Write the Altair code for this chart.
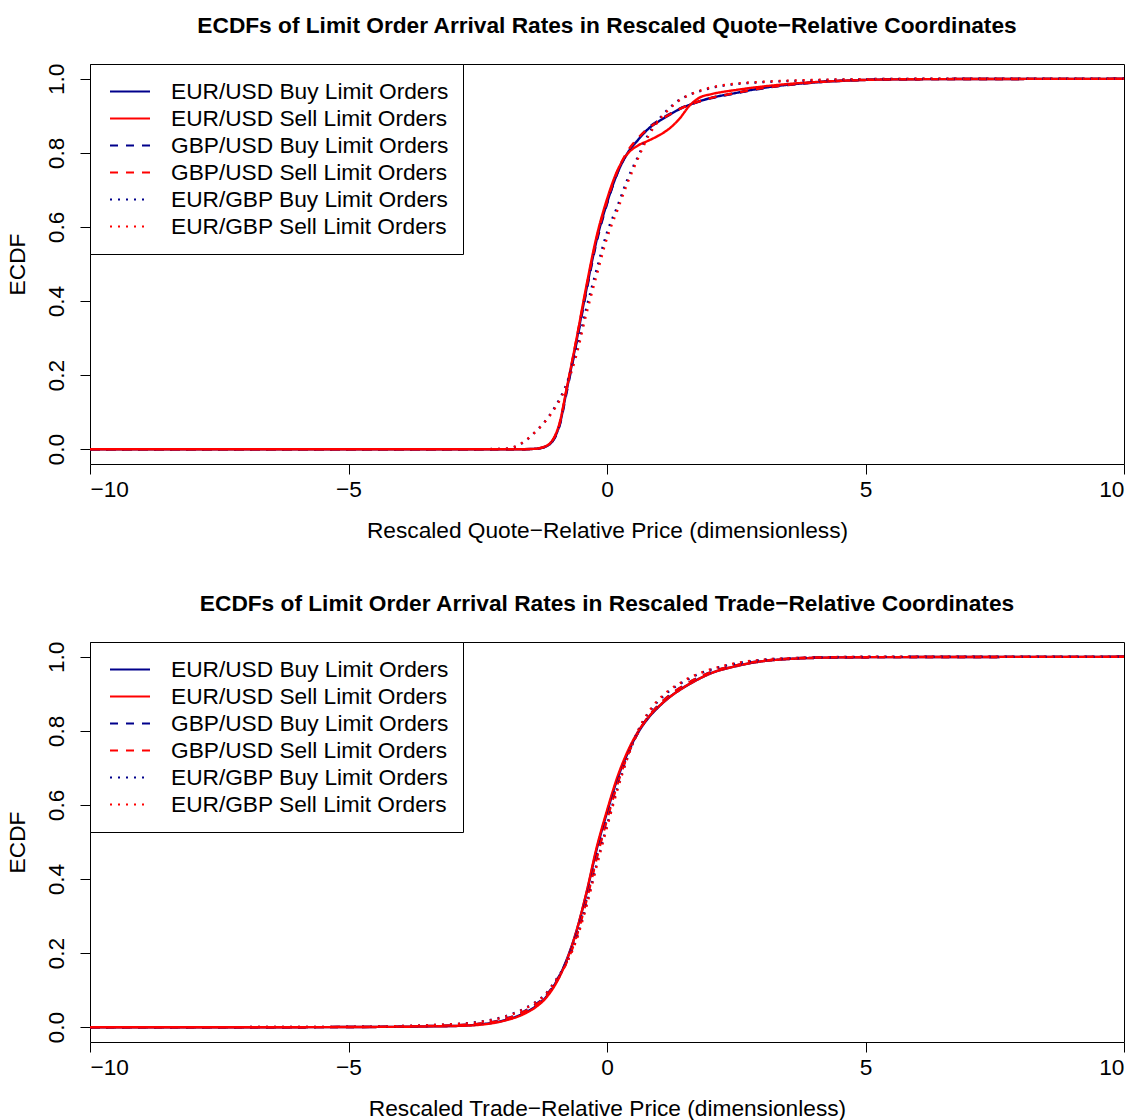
import altair as alt
import pandas as pd

FONT = "Liberation Sans"
FS = 22.7

SERIES = [
    "EUR/USD Buy Limit Orders",
    "EUR/USD Sell Limit Orders",
    "GBP/USD Buy Limit Orders",
    "GBP/USD Sell Limit Orders",
    "EUR/GBP Buy Limit Orders",
    "EUR/GBP Sell Limit Orders",
]
COLORS = ["#00008B", "#FF0000", "#00008B", "#FF0000", "#00008B", "#FF0000"]
DASHES = [[1, 0], [1, 0], [8, 8], [8, 8], [2, 6], [2, 6]]

# Quote-relative coordinates
quote_x = [-10, -2.5, -2.0, -1.8, -1.6, -1.4, -1.2, -1.0, -0.9, -0.8, -0.6, -0.4, -0.2,
           0.0, 0.2, 0.4, 0.6, 0.8, 1.0, 1.2, 1.4, 1.6, 1.8, 2.0, 2.5, 3.0, 3.5, 4.0,
           5.0, 6.0, 10]
quote_eurusd_buy = [0, 0, 0, 0, 0, 0.001, 0.006, 0.035, 0.075, 0.145, 0.285, 0.43, 0.565,
                    0.665, 0.745, 0.80, 0.835, 0.865, 0.885, 0.902, 0.918, 0.93, 0.94, 0.948,
                    0.962, 0.975, 0.984, 0.99, 0.997, 0.999, 1]
quote_eurusd_sell = [0, 0, 0, 0, 0, 0.001, 0.007, 0.038, 0.08, 0.15, 0.29, 0.44, 0.575,
                     0.675, 0.752, 0.798, 0.82, 0.833, 0.847, 0.865, 0.892, 0.928, 0.95, 0.958,
                     0.97, 0.979, 0.986, 0.991, 0.997, 0.999, 1]
quote_gbpusd_buy = [0, 0, 0, 0, 0, 0.001, 0.006, 0.033, 0.072, 0.14, 0.28, 0.425, 0.56,
                    0.662, 0.745, 0.802, 0.838, 0.868, 0.888, 0.904, 0.919, 0.93, 0.939, 0.947,
                    0.961, 0.974, 0.983, 0.99, 0.997, 0.999, 1]
quote_gbpusd_sell = [0, 0, 0, 0, 0, 0.001, 0.007, 0.036, 0.077, 0.148, 0.29, 0.435, 0.57,
                     0.67, 0.75, 0.805, 0.84, 0.866, 0.886, 0.903, 0.918, 0.93, 0.94, 0.948,
                     0.962, 0.975, 0.984, 0.99, 0.997, 0.999, 1]
quote_eurgbp_buy = [0, 0, 0.001, 0.005, 0.02, 0.045, 0.075, 0.115, 0.14, 0.17, 0.26, 0.38,
                    0.485, 0.585, 0.655, 0.73, 0.79, 0.85, 0.89, 0.92, 0.943, 0.957, 0.967,
                    0.975, 0.986, 0.991, 0.994, 0.996, 0.999, 1, 1]
quote_eurgbp_sell = [0, 0, 0.001, 0.006, 0.021, 0.045, 0.074, 0.112, 0.136, 0.165, 0.25,
                     0.365, 0.47, 0.57, 0.645, 0.72, 0.785, 0.845, 0.887, 0.918, 0.942, 0.957,
                     0.968, 0.976, 0.987, 0.992, 0.995, 0.997, 0.999, 1, 1]

# Trade-relative coordinates
trade_x = [-10, -6, -5, -4, -3.5, -3, -2.5, -2.0, -1.6, -1.4, -1.2, -1.0, -0.8, -0.6, -0.4,
           -0.2, 0.0, 0.2, 0.4, 0.6, 0.8, 1.0, 1.2, 1.4, 1.6, 1.8, 2.0, 2.5, 3.0, 3.5, 4.0,
           5.0, 10]
trade_eurusd_buy = [0, 0, 0.0005, 0.001, 0.002, 0.003, 0.007, 0.018, 0.038, 0.054, 0.078,
                    0.118, 0.175, 0.255, 0.36, 0.48, 0.58, 0.67, 0.74, 0.795, 0.835, 0.865,
                    0.89, 0.91, 0.927, 0.942, 0.955, 0.975, 0.988, 0.994, 0.997, 0.999, 1]
trade_eurusd_sell = [0, 0, 0.0005, 0.001, 0.002, 0.003, 0.006, 0.017, 0.036, 0.052, 0.076,
                     0.115, 0.173, 0.255, 0.362, 0.485, 0.585, 0.675, 0.745, 0.798, 0.837,
                     0.866, 0.89, 0.91, 0.927, 0.942, 0.955, 0.975, 0.988, 0.994, 0.997,
                     0.999, 1]
trade_gbpusd_buy = [0, 0, 0.0005, 0.0015, 0.003, 0.005, 0.009, 0.021, 0.043, 0.06, 0.082,
                    0.12, 0.172, 0.245, 0.345, 0.46, 0.565, 0.66, 0.735, 0.795, 0.838, 0.87,
                    0.895, 0.915, 0.932, 0.946, 0.958, 0.977, 0.989, 0.995, 0.998, 0.999, 1]
trade_gbpusd_sell = [0, 0, 0.0005, 0.0015, 0.003, 0.005, 0.009, 0.02, 0.042, 0.058, 0.08,
                     0.118, 0.169, 0.24, 0.34, 0.455, 0.56, 0.655, 0.735, 0.795, 0.838, 0.87,
                     0.895, 0.915, 0.932, 0.946, 0.958, 0.977, 0.989, 0.995, 0.998, 0.999, 1]
trade_eurgbp_buy = [0, 0.0005, 0.001, 0.003, 0.005, 0.008, 0.014, 0.028, 0.05, 0.066, 0.088,
                    0.125, 0.17, 0.235, 0.33, 0.44, 0.545, 0.645, 0.73, 0.8, 0.848, 0.882,
                    0.907, 0.926, 0.942, 0.955, 0.965, 0.982, 0.992, 0.996, 0.998, 1, 1]
trade_eurgbp_sell = [0, 0.0005, 0.001, 0.003, 0.005, 0.008, 0.013, 0.027, 0.049, 0.065, 0.087,
                     0.124, 0.168, 0.232, 0.325, 0.435, 0.54, 0.64, 0.728, 0.8, 0.85, 0.885,
                     0.91, 0.928, 0.944, 0.956, 0.966, 0.983, 0.992, 0.996, 0.998, 1, 1]

QUOTE_SERIES = [quote_eurusd_buy, quote_eurusd_sell, quote_gbpusd_buy,
                quote_gbpusd_sell, quote_eurgbp_buy, quote_eurgbp_sell]
TRADE_SERIES = [trade_eurusd_buy, trade_eurusd_sell, trade_gbpusd_buy,
                trade_gbpusd_sell, trade_eurgbp_buy, trade_eurgbp_sell]

X_TICKS = [-10, -5, 0, 5, 10]
Y_TICKS = [0.0, 0.2, 0.4, 0.6, 0.8, 1.0]


def long_table(xs, curves):
    rows = []
    for k, (name, ys) in enumerate(zip(SERIES, curves)):
        for xv, yv in zip(xs, ys):
            rows.append({"series": name, "k": k, "x": xv, "y": yv})
    return pd.DataFrame(rows)


def legend():
    return alt.Legend(
        title=None,
        orient="none",
        legendX=0,
        legendY=0,
        direction="vertical",
        symbolType="stroke",
        symbolSize=1600,
        symbolStrokeWidth=2,
        symbolOffset=5,
        labelFont=FONT,
        labelFontSize=FS,
        labelOffset=20,
        labelLimit=0,
        clipHeight=27,
        strokeColor="black",
        fillColor="white",
        padding=14,
        rowPadding=0,
    )


def panel(xs, curves, title, xtitle):
    df = long_table(xs, curves)
    return (
        alt.Chart(df)
        .mark_line(strokeWidth=2.4, interpolate="monotone", clip=True)
        .encode(
            x=alt.X("x:Q",
                    scale=alt.Scale(domain=[-10, 10], nice=False, zero=False),
                    axis=alt.Axis(values=X_TICKS, title=xtitle, format="d")),
            y=alt.Y("y:Q",
                    scale=alt.Scale(domain=[-0.04, 1.04], nice=False, zero=False),
                    axis=alt.Axis(values=Y_TICKS, title="ECDF", format=".1f",
                                  labelAngle=270, labelAlign="center",
                                  labelBaseline="bottom")),
            color=alt.Color("series:N", scale=alt.Scale(domain=SERIES, range=COLORS),
                            legend=legend()),
            strokeDash=alt.StrokeDash("series:N",
                                      scale=alt.Scale(domain=SERIES, range=DASHES),
                                      legend=legend()),
            order=alt.Order("k:Q"),
        )
        .properties(
            width=1034,
            height=400,
            title=alt.TitleParams(title, font=FONT, fontSize=FS, fontWeight="bold",
                                  anchor="middle", offset=25, color="black"),
        )
    )


top = panel(quote_x, QUOTE_SERIES,
            "ECDFs of Limit Order Arrival Rates in Rescaled Quote\u2212Relative Coordinates",
            "Rescaled Quote\u2212Relative Price (dimensionless)")
bottom = panel(trade_x, TRADE_SERIES,
               "ECDFs of Limit Order Arrival Rates in Rescaled Trade\u2212Relative Coordinates",
               "Rescaled Trade\u2212Relative Price (dimensionless)")

chart = (
    alt.vconcat(top, bottom, spacing=49)
    .resolve_legend(color="independent", strokeDash="independent")
    .resolve_scale(color="independent", strokeDash="independent")
    .properties(padding={"left": 5, "top": 14, "right": 10, "bottom": 0}, background="white")
    .configure_view(stroke="black", strokeWidth=1)
    .configure_axis(
        domain=False,
        tickColor="black",
        tickSize=10,
        tickWidth=1,
        labelFont=FONT,
        labelFontSize=FS,
        labelColor="black",
        labelPadding=4,
        titleFont=FONT,
        titleFontSize=FS,
        titleFontWeight="normal",
        titleColor="black",
        grid=False,
    )
    .configure_axisX(titlePadding=19)
    .configure_axisY(labelPadding=12, titlePadding=16)
)

chart.save("out.html", embed_options={"renderer": "svg", "actions": False})
